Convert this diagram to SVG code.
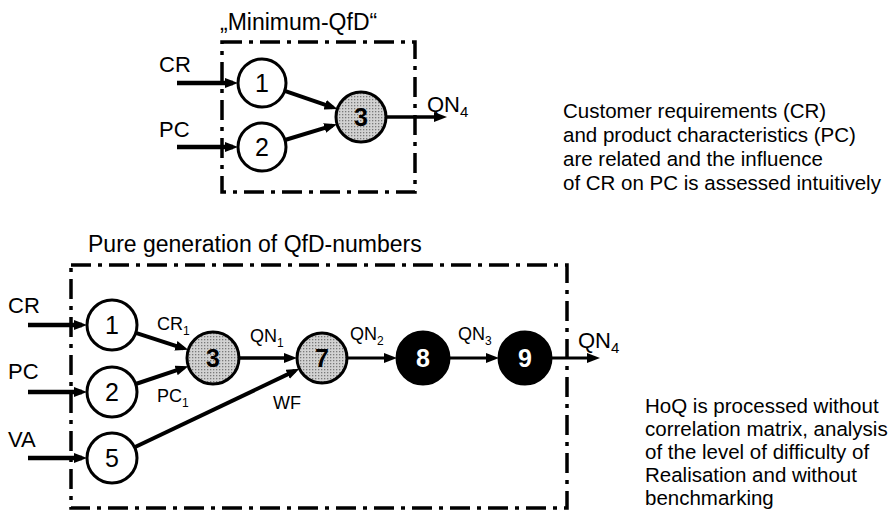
<svg xmlns="http://www.w3.org/2000/svg" width="894" height="511" viewBox="0 0 894 511">
<style>
text{font-family:"Liberation Sans",Arial,sans-serif;fill:#000}
.box{fill:none;stroke:#000;stroke-width:3.5;stroke-dasharray:20 7 4 7}
.n{stroke:#000;stroke-width:3;fill:#fff}
.s{stroke:#000;stroke-width:3;fill:url(#stip)}
.b{stroke:#000;stroke-width:3;fill:#000}
.d{font-size:25px;text-anchor:middle}
.db{font-size:25px;text-anchor:middle;font-weight:bold}
.dw{font-size:25px;text-anchor:middle;font-weight:bold;fill:#fff}
.lbl{font-size:22px}
.el{font-size:18px}
.ttl{font-size:23px}
.exp{font-size:20.5px}
.e{stroke:#000;fill:none;marker-end:url(#ah)}
</style>
<defs>
<pattern id="stip" width="3" height="3" patternUnits="userSpaceOnUse">
<rect width="3" height="3" fill="#d2d2d2"/>
<rect width="1.3" height="1.3" fill="#7a7a7a"/>
</pattern>
<marker id="ah" markerUnits="userSpaceOnUse" markerWidth="13" markerHeight="10" refX="8" refY="5" orient="auto">
<path d="M0,0 L13,5 L0,10 z" fill="#000"/>
</marker>
</defs>

<!-- Top diagram -->
<text class="ttl" x="220" y="30">„Minimum-QfD“</text>
<rect class="box" x="222" y="42" width="193" height="150"/>
<text class="lbl" x="159" y="72">CR</text>
<text class="lbl" x="159" y="137">PC</text>
<text class="lbl" x="427" y="112">QN<tspan font-size="15" dy="5">4</tspan></text>

<g id="connectors-top">
<line class="e" x1="177" y1="83" x2="233" y2="83" stroke-width="4.5"/>
<line class="e" x1="177" y1="147" x2="233" y2="147" stroke-width="4.5"/>
<line class="e" x1="284.7" y1="90.8" x2="332.7" y2="107.3" stroke-width="4"/>
<line class="e" x1="285" y1="140" x2="332.3" y2="125.7" stroke-width="4"/>
<line class="e" x1="386" y1="117" x2="442" y2="117" stroke-width="3.5"/>
</g>

<g id="top-n1"><circle class="n" cx="262" cy="83" r="24"/><text class="d" x="262" y="92">1</text></g>
<g id="top-n2"><circle class="n" cx="262" cy="147" r="24"/><text class="d" x="262" y="156">2</text></g>
<g id="top-n3"><circle class="s" cx="361" cy="117" r="25"/><text class="db" x="361" y="126">3</text></g>

<text class="exp" x="563" y="118">Customer requirements (CR)</text>
<text class="exp" x="563" y="142">and product characteristics (PC)</text>
<text class="exp" x="563" y="166">are related and the influence</text>
<text class="exp" x="563" y="190">of CR on PC is assessed intuitively</text>

<!-- Bottom diagram -->
<text class="ttl" x="88" y="252">Pure generation of QfD-numbers</text>
<rect class="box" x="71" y="265" width="496" height="243"/>
<text class="lbl" x="8" y="313">CR</text>
<text class="lbl" x="8" y="379">PC</text>
<text class="lbl" x="8" y="447">VA</text>

<text class="el" x="157" y="330">CR<tspan font-size="12" dy="5">1</tspan></text>
<text class="el" x="157" y="402">PC<tspan font-size="12" dy="5">1</tspan></text>
<text class="el" x="250" y="342">QN<tspan font-size="12" dy="5">1</tspan></text>
<text class="el" x="273" y="409">WF</text>
<text class="el" x="350" y="340">QN<tspan font-size="12" dy="5">2</tspan></text>
<text class="el" x="458" y="340">QN<tspan font-size="12" dy="5">3</tspan></text>
<text class="lbl" x="578" y="348">QN<tspan font-size="15" dy="5">4</tspan></text>

<g id="connectors-bottom">
<line class="e" x1="28" y1="325" x2="82" y2="325" stroke-width="4.5"/>
<line class="e" x1="28" y1="392" x2="82" y2="392" stroke-width="4.5"/>
<line class="e" x1="28" y1="458" x2="82" y2="458" stroke-width="4.5"/>
<line class="e" x1="135.8" y1="332.8" x2="183.5" y2="348.3" stroke-width="4"/>
<line class="e" x1="135.7" y1="384" x2="183.7" y2="367.9" stroke-width="4"/>
<line class="e" x1="239" y1="358" x2="292" y2="358" stroke-width="3.5"/>
<line class="e" x1="134.6" y1="447.2" x2="294.9" y2="370.9" stroke-width="4"/>
<line class="e" x1="347" y1="358" x2="392" y2="358" stroke-width="3"/>
<line class="e" x1="449" y1="358" x2="494" y2="358" stroke-width="3"/>
<line class="e" x1="552" y1="358" x2="595" y2="358" stroke-width="3"/>
</g>

<g id="bot-n1"><circle class="n" cx="112" cy="325" r="25"/><text class="d" x="112" y="334">1</text></g>
<g id="bot-n2"><circle class="n" cx="112" cy="392" r="25"/><text class="d" x="112" y="401">2</text></g>
<g id="bot-n5"><circle class="n" cx="112" cy="458" r="25"/><text class="d" x="112" y="467">5</text></g>
<g id="bot-n3"><circle class="s" cx="213" cy="358" r="26"/><text class="db" x="213" y="367">3</text></g>
<g id="bot-n7"><circle class="s" cx="322" cy="358" r="25"/><text class="db" x="322" y="367">7</text></g>
<g id="bot-n8"><circle class="b" cx="423" cy="358" r="26"/><text class="dw" x="423" y="367">8</text></g>
<g id="bot-n9"><circle class="b" cx="525" cy="358" r="26"/><text class="dw" x="525" y="367">9</text></g>

<text class="exp" x="645" y="413" font-size="21">HoQ is processed without</text>
<text class="exp" x="645" y="436" font-size="21">correlation matrix, analysis</text>
<text class="exp" x="645" y="459" font-size="21">of the level of difficulty of</text>
<text class="exp" x="645" y="482" font-size="21">Realisation and without</text>
<text class="exp" x="645" y="505" font-size="21">benchmarking</text>
</svg>
